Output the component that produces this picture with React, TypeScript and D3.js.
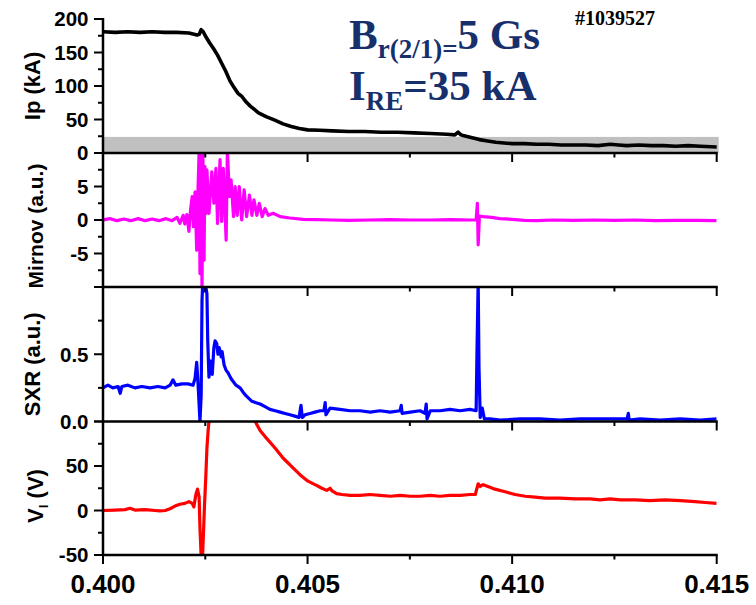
import React from "react";
import * as d3 from "d3";

// ---------- data ----------
const xTickLabels = ["0.400", "0.405", "0.410", "0.415"];
const xMajorTicks = [0.4, 0.405, 0.41, 0.415];
const xMinorTicks = [0.4025, 0.4075, 0.4125];

const ipTime = [0.4, 0.4003, 0.4006, 0.4009, 0.4012, 0.4015, 0.4018, 0.4021, 0.4023, 0.40235, 0.4024, 0.40245, 0.4025, 0.4026, 0.4027, 0.4028, 0.4029, 0.403, 0.4031, 0.4032, 0.4033, 0.4034, 0.4035, 0.4036, 0.4037, 0.4038, 0.404, 0.4042, 0.4044, 0.4046, 0.4048, 0.405, 0.4053, 0.4056, 0.406, 0.4064, 0.4068, 0.4072, 0.4076, 0.408, 0.4084, 0.4086, 0.40868, 0.40875, 0.4088, 0.409, 0.4092, 0.4094, 0.4096, 0.4098, 0.41, 0.4103, 0.4106, 0.4109, 0.4112, 0.4115, 0.4118, 0.4121, 0.4124, 0.4126, 0.4128, 0.4131, 0.4134, 0.4137, 0.414, 0.4143, 0.4146, 0.415];
const ipValue = [181, 180, 181, 180, 181, 180, 180, 179, 176, 177, 184, 181, 175, 165, 156, 146, 134, 122, 108, 98, 89, 84, 76, 70, 65, 60, 54, 49, 43.5, 39.5, 36.5, 34.5, 34, 33, 32, 32, 31, 31, 30, 29, 28, 27, 31, 27, 26, 23, 20, 18, 16, 15, 14, 14, 13, 13, 12, 12, 12, 11, 13, 12, 11, 12, 11, 11, 10, 11, 10, 9];
const ipBand = [0, 24];

const mirTime = [0.4, 0.40017, 0.40034, 0.40051, 0.40068, 0.40086, 0.40103, 0.4012, 0.40137, 0.40154, 0.40169, 0.40181, 0.40188, 0.40196, 0.402, 0.40205, 0.4021, 0.40214, 0.40218, 0.40221, 0.40225, 0.40229, 0.40232, 0.40235, 0.40237, 0.4024, 0.40242, 0.40244, 0.40247, 0.40249, 0.40252, 0.40254, 0.40259, 0.40266, 0.40271, 0.40276, 0.4028, 0.40286, 0.4029, 0.40294, 0.40301, 0.40304, 0.40309, 0.40313, 0.40319, 0.40323, 0.40328, 0.40333, 0.40339, 0.40345, 0.40351, 0.40358, 0.40364, 0.40369, 0.40376, 0.40382, 0.40389, 0.40396, 0.40404, 0.40416, 0.40433, 0.40457, 0.40489, 0.4052, 0.4056, 0.406, 0.4065, 0.407, 0.4075, 0.408, 0.4085, 0.409, 0.40912, 0.40915, 0.40917, 0.4092, 0.4093, 0.4095, 0.4097, 0.41, 0.4103, 0.4106, 0.411, 0.4115, 0.412, 0.4125, 0.413, 0.4135, 0.414, 0.4145, 0.415];
const mirValue = [0, 0.2, -0.1, 0.15, -0.1, 0.2, -0.1, 0.15, -0.1, 0.2, -0.1, 0.4, -0.5, 0.7, -0.6, 0.8, -1.7, 1.5, 3.5, -1, 4.2, -4.5, 4, 10.5, -8, 10.5, -10.5, 10.5, -6, 8, 1, 7.5, 1, 7.2, 2.5, 7.7, -0.5, 9, -0.2, 7.7, -3, 10.5, 3.5, 6, 0.5, 5, 0.7, 5, 0, 4.5, 0.5, 3.7, 0.7, 3, 0.7, 2.5, 0.5, 1.7, 0.7, 1, 0.5, 0.3, 0.1, 0.05, 0, -0.05, 0, 0.05, 0, 0, 0.05, 0, 0, 2.5, -3.7, 0.6, 0.5, 0.4, 0.2, 0.1, -0.05, -0.1, 0, -0.05, 0, -0.05, 0, -0.1, -0.05, -0.05, -0.1];

const sxrTime = [0.4, 0.40012, 0.40024, 0.40037, 0.40042, 0.40046, 0.40061, 0.40078, 0.40095, 0.40115, 0.40134, 0.40152, 0.40164, 0.40171, 0.40178, 0.40193, 0.40208, 0.4022, 0.40225, 0.40229, 0.40232, 0.40237, 0.4024, 0.40242, 0.40244, 0.40247, 0.40249, 0.40254, 0.40256, 0.40259, 0.40263, 0.40267, 0.40271, 0.40274, 0.40278, 0.40281, 0.40284, 0.40289, 0.40291, 0.40296, 0.40301, 0.40306, 0.40311, 0.40315, 0.4032, 0.40325, 0.40335, 0.40342, 0.4035, 0.40357, 0.40364, 0.40374, 0.40384, 0.40396, 0.40408, 0.40421, 0.40433, 0.40445, 0.40457, 0.40469, 0.40479, 0.40484, 0.40487, 0.40494, 0.40506, 0.40518, 0.40531, 0.4054, 0.40543, 0.40545, 0.40555, 0.40579, 0.40604, 0.40628, 0.40653, 0.40677, 0.40702, 0.40726, 0.40729, 0.40731, 0.40751, 0.40775, 0.40787, 0.4079, 0.40792, 0.408, 0.40824, 0.40848, 0.40873, 0.40897, 0.40912, 0.40914, 0.40917, 0.40919, 0.40922, 0.40927, 0.40932, 0.40946, 0.40971, 0.4102, 0.41068, 0.41117, 0.41166, 0.41215, 0.41264, 0.41281, 0.41284, 0.41286, 0.41313, 0.41362, 0.41411, 0.4146, 0.415];
const sxrValue = [0.25, 0.27, 0.25, 0.26, 0.21, 0.26, 0.27, 0.25, 0.26, 0.25, 0.26, 0.25, 0.27, 0.31, 0.27, 0.28, 0.28, 0.27, 0.32, 0.44, 0.3, 0.0, 0.2, 0.9, 1.05, 0.97, 1.05, 0.95, 0.6, 0.33, 0.45, 0.35, 0.55, 0.6, 0.58, 0.5, 0.55, 0.48, 0.52, 0.42, 0.38, 0.36, 0.33, 0.31, 0.29, 0.27, 0.25, 0.22, 0.19, 0.17, 0.15, 0.14, 0.13, 0.11, 0.09, 0.08, 0.07, 0.06, 0.05, 0.04, 0.03, 0.12, 0.03, 0.05, 0.06, 0.07, 0.08, 0.08, 0.14, 0.05, 0.1, 0.09, 0.08, 0.08, 0.07, 0.08, 0.07, 0.08, 0.12, 0.06, 0.07, 0.08, 0.06, 0.13, 0.02, 0.08, 0.08, 0.09, 0.08, 0.09, 0.08, 0.5, 1.05, 0.4, 0.03, 0.1, 0.02, 0.02, 0.01, 0.02, 0.02, 0.01, 0.02, 0.02, 0.02, 0.02, 0.06, 0.01, 0.02, 0.01, 0.02, 0.01, 0.02];

const vlTime = [0.4, 0.40029, 0.40054, 0.40066, 0.40078, 0.40103, 0.40127, 0.40139, 0.40152, 0.40164, 0.40176, 0.40188, 0.402, 0.4021, 0.40218, 0.40222, 0.40227, 0.40231, 0.40235, 0.40237, 0.4024, 0.40243, 0.40246, 0.40248, 0.40251, 0.40254, 0.40257, 0.40259, 0.40262, 0.40274, 0.40311, 0.40347, 0.40372, 0.40384, 0.404, 0.40421, 0.4044, 0.40462, 0.40482, 0.40501, 0.40523, 0.40535, 0.40547, 0.40555, 0.4056, 0.40571, 0.40584, 0.40604, 0.40628, 0.40653, 0.40677, 0.40702, 0.40726, 0.40751, 0.40775, 0.408, 0.40824, 0.40848, 0.40873, 0.40897, 0.4091, 0.40914, 0.40917, 0.40922, 0.40929, 0.40941, 0.40958, 0.40983, 0.41007, 0.41032, 0.41056, 0.41081, 0.41117, 0.41154, 0.41191, 0.41215, 0.4124, 0.41264, 0.41301, 0.41337, 0.41374, 0.41411, 0.41447, 0.41472, 0.415];
const vlValue = [0, 0.5, 1, 2.5, 0.5, 1, 0, -0.5, 0, 2, 5, 7, 8, 10, 8, 4, 18, 24, 15, -20, -52, -55, -20, 5, 35, 70, 90, 100, 110, 130, 140, 125, 100, 90, 81, 70, 59, 49, 40, 33, 28, 25, 22.6, 25, 22, 19, 18, 17, 17, 18, 17, 16, 17, 16, 16, 17, 16, 17, 17, 18, 18, 25, 30, 27, 29, 27, 24, 21, 18, 16, 15, 14, 14, 13, 13, 12, 13, 12, 12, 11, 12, 11, 10, 9, 8];

const ipTicks = [0, 50, 100, 150, 200];
const ipMinor = [25, 75, 125, 175];
const mirTicks = [-10, -5, 0, 5, 10];
const mirLabels = [-5, 0, 5];
const mirMinor = [-7.5, -2.5, 2.5, 7.5];
const sxrTicks = [0, 0.5, 1];
const sxrLabels = ["0.0", "0.5"];
const sxrMinor = [0.25, 0.75];
const vlTicks = [-50, 0, 50, 100];
const vlLabels = [-50, 0, 50];
const vlMinor = [-25, 25, 75];

// ---------- layout ----------
const W = 756;
const H = 605;
const X0 = 103;
const X1 = 716.7;
const SANS = "'Liberation Sans', Arial, sans-serif";
const SERIF = "'Liberation Serif', 'Times New Roman', serif";
const NAVY = "#17306c";

const x = d3.scaleLinear().domain([0.4, 0.415]).range([X0, X1]);
const ipY = d3.scaleLinear().domain([0, 200]).range([153, 19]);
const mirY = d3.scaleLinear().domain([-10, 10]).range([287, 153]);
const sxrY = d3.scaleLinear().domain([0, 1]).range([421.5, 287]);
const vlY = d3.scaleLinear().domain([-50, 100]).range([555, 421.5]);

function pathOf(ts: number[], vs: number[], y: d3.ScaleLinear<number, number>) {
  const pts = d3.zip(ts, vs) as [number, number][];
  return (
    d3
      .line<[number, number]>()
      .x((d) => x(d[0]))
      .y((d) => y(d[1]))(pts) || ""
  );
}

function YAxis({
  y,
  ticks,
  minor,
  labels,
}: {
  y: d3.ScaleLinear<number, number>;
  ticks: number[];
  minor: number[];
  labels: { v: number; s: string }[];
}) {
  return (
    <g>
      {ticks.map((t) => (
        <line key={"M" + t} x1={X0 - 9} x2={X0} y1={y(t)} y2={y(t)} stroke="#000" strokeWidth={2} />
      ))}
      {minor.map((t) => (
        <line key={"m" + t} x1={X0 - 5} x2={X0} y1={y(t)} y2={y(t)} stroke="#000" strokeWidth={2} />
      ))}
      {labels.map((l) => (
        <text
          key={"l" + l.s}
          x={88.5}
          y={y(l.v)}
          dy="0.36em"
          textAnchor="end"
          fontFamily={SANS}
          fontWeight="bold"
          fontSize={20.5}
          fill="#000"
        >
          {l.s}
        </text>
      ))}
    </g>
  );
}

function XBase({ yPos }: { yPos: number }) {
  return (
    <g>
      <line x1={X0} x2={X1 + 1} y1={yPos} y2={yPos} stroke="#000" strokeWidth={2.5} />
      {xMajorTicks.map((t) => (
        <line key={"M" + t} x1={x(t)} x2={x(t)} y1={yPos} y2={yPos + 9} stroke="#000" strokeWidth={2} />
      ))}
      {xMinorTicks.map((t) => (
        <line key={"m" + t} x1={x(t)} x2={x(t)} y1={yPos} y2={yPos + 4.5} stroke="#000" strokeWidth={2} />
      ))}
    </g>
  );
}

export default function App() {
  const ipPath = pathOf(ipTime, ipValue, ipY);
  const mirPath = pathOf(mirTime, mirValue, mirY);
  const sxrPath = pathOf(sxrTime, sxrValue, sxrY);
  const vlPath = pathOf(vlTime, vlValue, vlY);

  return (
    <svg
      width={W}
      height={H}
      viewBox={`0 0 ${W} ${H}`}
      style={{ position: "absolute", left: 0, top: 0, background: "#fff" }}
    >
      <rect x={0} y={0} width={W} height={H} fill="#fff" />
      <defs>
        <clipPath id="cMir">
          <rect x={X0} y={mirY(10)} width={X1 - X0} height={mirY(-10) - mirY(10)} />
        </clipPath>
        <clipPath id="cSxr">
          <rect x={X0} y={sxrY(1)} width={X1 - X0} height={sxrY(0) - sxrY(1)} />
        </clipPath>
        <clipPath id="cVl">
          <rect x={X0} y={vlY(100)} width={X1 - X0} height={vlY(-50) - vlY(100)} />
        </clipPath>
      </defs>

      {/* grey band in Ip panel */}
      <rect
        x={X0}
        y={ipY(ipBand[1])}
        width={X1 + 2 - X0}
        height={ipY(ipBand[0]) - ipY(ipBand[1])}
        fill="#c0c0c0"
      />

      {/* series */}
      <path d={ipPath} fill="none" stroke="#000" strokeWidth={3.6} strokeLinejoin="round" />
      <g clipPath="url(#cMir)">
        <path d={mirPath} fill="none" stroke="#ff00ff" strokeWidth={3.2} strokeLinejoin="round" />
      </g>
      <g clipPath="url(#cSxr)">
        <path d={sxrPath} fill="none" stroke="#0000ff" strokeWidth={3.2} strokeLinejoin="round" />
      </g>
      <g clipPath="url(#cVl)">
        <path d={vlPath} fill="none" stroke="#ff0000" strokeWidth={3.2} strokeLinejoin="round" />
      </g>

      {/* axes */}
      <line x1={X0} x2={X0} y1={ipY(200) - 1} y2={vlY(-50)} stroke="#000" strokeWidth={2.5} />
      <XBase yPos={ipY(0)} />
      <XBase yPos={mirY(-10)} />
      <XBase yPos={sxrY(0)} />
      <XBase yPos={vlY(-50)} />

      <YAxis y={ipY} ticks={ipTicks} minor={ipMinor} labels={ipTicks.map((v) => ({ v, s: String(v) }))} />
      <YAxis y={mirY} ticks={mirTicks} minor={mirMinor} labels={mirLabels.map((v) => ({ v, s: String(v) }))} />
      <YAxis
        y={sxrY}
        ticks={sxrTicks}
        minor={sxrMinor}
        labels={sxrLabels.map((s) => ({ v: parseFloat(s), s }))}
      />
      <YAxis y={vlY} ticks={vlTicks} minor={vlMinor} labels={vlLabels.map((v) => ({ v, s: String(v) }))} />

      {/* x tick labels */}
      {xMajorTicks.map((t, i) => (
        <text
          key={"xl" + i}
          x={x(t)}
          y={593}
          textAnchor="middle"
          fontFamily={SANS}
          fontWeight="bold"
          fontSize={26}
          fill="#000"
        >
          {xTickLabels[i]}
        </text>
      ))}

      {/* y axis titles */}
      <text
        transform={`translate(40,${(ipY(0) + ipY(200)) / 2}) rotate(-90)`}
        textAnchor="middle"
        fontFamily={SANS}
        fontWeight="bold"
        fontSize={22}
        fill="#000"
      >
        Ip (kA)
      </text>
      <text
        transform={`translate(43,${(mirY(-10) + mirY(10)) / 2 + 6}) rotate(-90)`}
        textAnchor="middle"
        fontFamily={SANS}
        fontWeight="bold"
        fontSize={21}
        fill="#000"
      >
        Mirnov (a.u.)
      </text>
      <text
        transform={`translate(40,${(sxrY(0) + sxrY(1)) / 2 + 10}) rotate(-90)`}
        textAnchor="middle"
        fontFamily={SANS}
        fontWeight="bold"
        fontSize={22}
        fill="#000"
      >
        SXR (a.u.)
      </text>
      <text
        transform={`translate(43,496) rotate(-90)`}
        textAnchor="middle"
        fontFamily={SANS}
        fontWeight="bold"
        fontSize={22}
        fill="#000"
      >
        V
        <tspan fontSize={13} dy={5}>
          l
        </tspan>
        <tspan dy={-5}> (V)</tspan>
      </text>

      {/* annotations */}
      <text x={349} y={49} fontFamily={SERIF} fontWeight="bold" fontSize={43} fill={NAVY}>
        B
        <tspan fontSize={27} dy={9}>
          r(2/1)=
        </tspan>
        <tspan dy={-9}>5 Gs</tspan>
      </text>
      <text x={349} y={100} fontFamily={SERIF} fontWeight="bold" fontSize={43} fill={NAVY}>
        I
        <tspan fontSize={27} dy={10}>
          RE
        </tspan>
        <tspan dy={-10}>=35 kA</tspan>
      </text>
      <text x={575} y={25} fontFamily={SERIF} fontWeight="bold" fontSize={20} fill="#000">
        #1039527
      </text>
    </svg>
  );
}
